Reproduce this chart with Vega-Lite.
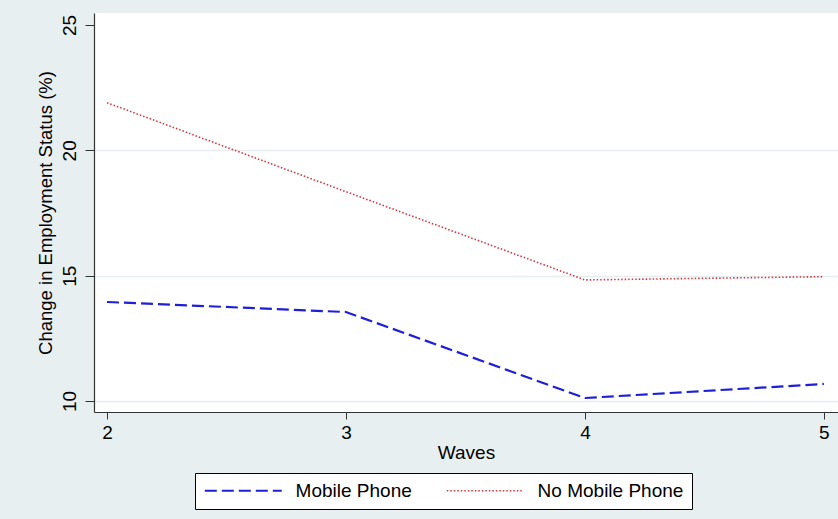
{
  "$schema": "https://vega.github.io/schema/vega-lite/v6.json",
  "width": 744,
  "height": 399,
  "autosize": {"type": "none"},
  "padding": {"left": 94, "top": 13, "right": 0, "bottom": 107},
  "background": "#e8eff1",
  "config": {
    "view": {"fill": "white", "stroke": null},
    "font": "Liberation Sans"
  },
  "data": {
    "values": [
      {"wave": 2, "group": "Mobile Phone", "value": 13.95},
      {"wave": 3, "group": "Mobile Phone", "value": 13.55},
      {"wave": 4, "group": "Mobile Phone", "value": 10.12},
      {"wave": 5, "group": "Mobile Phone", "value": 10.68},
      {"wave": 2, "group": "No Mobile Phone", "value": 21.9},
      {"wave": 3, "group": "No Mobile Phone", "value": 18.35},
      {"wave": 4, "group": "No Mobile Phone", "value": 14.83},
      {"wave": 5, "group": "No Mobile Phone", "value": 14.96}
    ]
  },
  "mark": {"type": "line", "strokeCap": "butt"},
  "encoding": {
    "x": {
      "field": "wave",
      "type": "quantitative",
      "scale": {"domain": [1.9456, 5.059], "nice": false, "zero": false},
      "axis": {
        "values": [2, 3, 4, 5],
        "format": "d",
        "grid": false,
        "title": "Waves",
        "titleFontSize": 19,
        "titleFontWeight": "normal",
        "titleColor": "black",
        "titlePadding": 1,
        "labelFontSize": 19,
        "labelColor": "black",
        "labelPadding": 4,
        "labelFlush": false,
        "tickSize": 7,
        "tickColor": "#333333",
        "domainColor": "#333333",
        "domainWidth": 1.2
      }
    },
    "y": {
      "field": "value",
      "type": "quantitative",
      "scale": {"domain": [9.561, 25.479], "nice": false, "zero": false},
      "axis": {
        "values": [10, 15, 20, 25],
        "title": "Change in Employment Status (%)",
        "titleFontSize": 18.5,
        "titleFontWeight": "normal",
        "titleColor": "black",
        "titlePadding": 5,
        "labelAngle": 270,
        "labelAlign": "center",
        "labelBaseline": "bottom",
        "labelFontSize": 19,
        "labelColor": "black",
        "labelPadding": 6,
        "labelFlush": false,
        "tickSize": 9,
        "tickColor": "#333333",
        "domainColor": "#333333",
        "domainWidth": 1.2,
        "grid": true,
        "gridColor": "#e6eef0",
        "gridWidth": 1.5,
        "gridOpacity": {"condition": {"test": "datum.value == 25", "value": 0}, "value": 1}
      }
    },
    "color": {
      "field": "group",
      "type": "nominal",
      "scale": {"domain": ["Mobile Phone", "No Mobile Phone"], "range": ["#1f1fd8", "#d8343f"]},
      "legend": {
        "orient": "none",
        "legendX": 101,
        "legendY": 460,
        "direction": "horizontal",
        "title": null,
        "labelFontSize": 19,
        "labelColor": "black",
        "labelLimit": 400,
        "labelOffset": 73.6,
        "columnPadding": 31,
        "symbolType": "M-1,0H9",
        "symbolSize": 237,
        "symbolStrokeWidth": 2,
        "padding": 8,
        "strokeColor": "black",
        "fillColor": "white",
        "cornerRadius": 0
      }
    },
    "strokeDash": {
      "field": "group",
      "type": "nominal",
      "scale": {"domain": ["Mobile Phone", "No Mobile Phone"], "range": [[12, 5], [1.5, 2]]}
    },
    "strokeWidth": {
      "field": "group",
      "type": "nominal",
      "scale": {"domain": ["Mobile Phone", "No Mobile Phone"], "range": [2.2, 1.6]},
      "legend": null
    }
  }
}
